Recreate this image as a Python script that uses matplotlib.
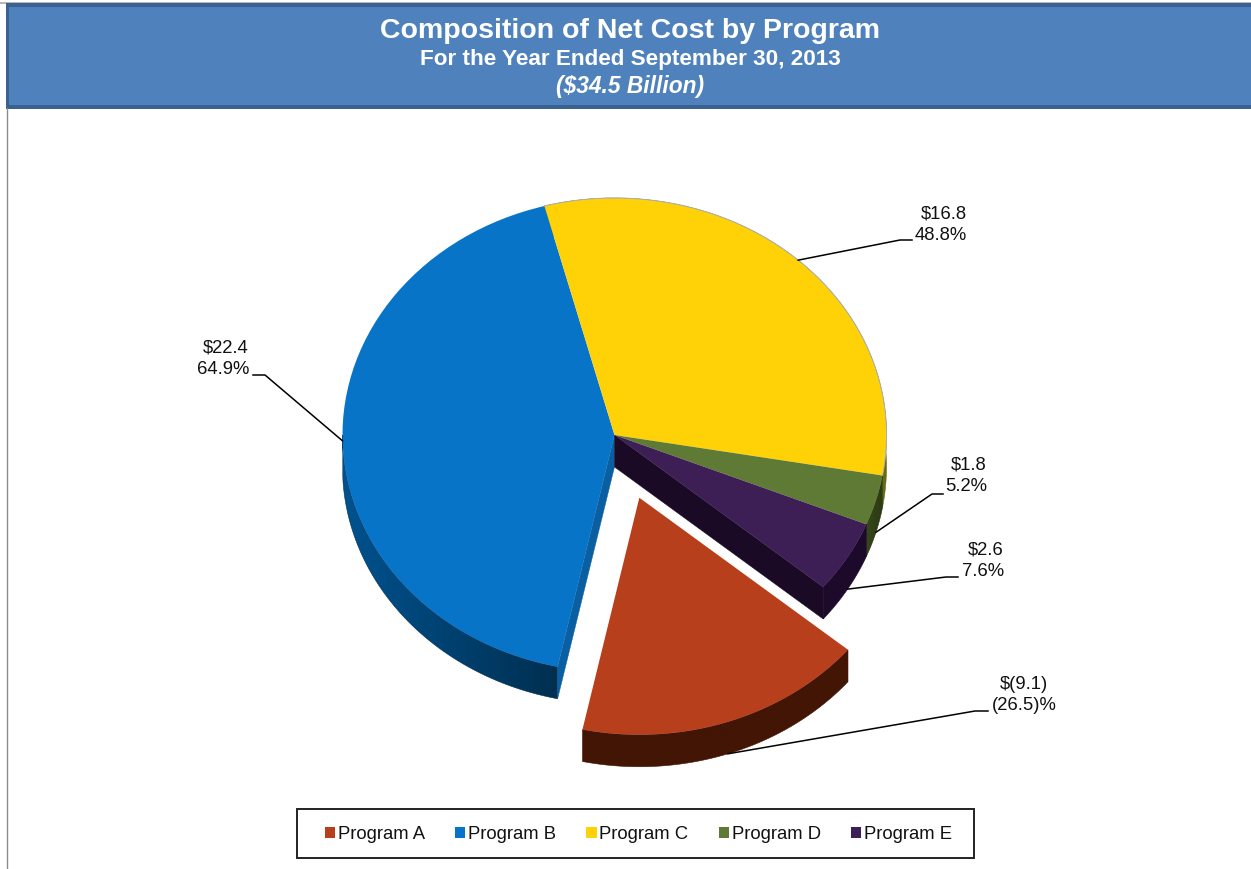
import numpy as np
import matplotlib
matplotlib.use("Agg")
import matplotlib.pyplot as plt
from matplotlib.colors import LinearSegmentedColormap
from matplotlib.patches import Rectangle, Polygon

plt.rcParams['font.family'] = ['Liberation Sans', 'DejaVu Sans']

# ---- data ----
programs = ['Program A', 'Program B', 'Program C', 'Program D', 'Program E']
amounts = [-9.1, 22.4, 16.8, 1.8, 2.6]
amount_labels = ['$(9.1)', '$22.4', '$16.8', '$1.8', '$2.6']
percent_labels = ['(26.5)%', '64.9%', '48.8%', '5.2%', '7.6%']
explode = [0.28, 0, 0, 0, 0]

# ---- styles ----
top_colors = ['#B83F1B', '#0874C8', '#FFD208', '#5F7A35', '#3D1E55']
side_left = ['#431505', '#00528F', '#8A8A10', '#36471A', '#1D0A2B']
side_right = ['#431505', '#002F50', '#6B6A10', '#2B3A12', '#1D0A2B']
cut_colors = ['#431505', '#0A5FA2', '#6B6A10', '#2B3A12', '#1B0A26']
W, H = 1251, 869
cx, cy = 614.5, 435    # pie centre, px
rx, ry = 272, 237      # pie radii, px
depth_px = 32
start_angle = -39.9

fig = plt.figure(figsize=(W / 100, H / 100), dpi=100, facecolor='white')

# Pie axes: one data unit is one radius, squashed to give the tilted view
ax = fig.add_axes([0, 0, 1, 1])
wedges, _ = ax.pie(np.abs(amounts), explode=explode, colors=top_colors,
                   startangle=start_angle, counterclock=False, radius=1,
                   wedgeprops=dict(linewidth=0, zorder=3))
xlim = (-cx / rx, (W - cx) / rx)
ylim = (-(H - cy) / ry, cy / ry)
depth = depth_px / ry


def rim(t, c):
    a = np.radians(t)
    return c[0] + np.cos(a), c[1] + np.sin(a)


leader_starts = []
for i, w in enumerate(wedges):
    c = w.center
    t1, t2 = w.theta1, w.theta2
    while t2 > 0:
        t1 -= 360
        t2 -= 360
    while t2 <= -360:
        t1 += 360
        t2 += 360
    lo = max(t1, -180)
    hi = min(t2, 0)
    if t2 < -180:
        lo, hi = t1, t2
    # curved outer wall with a horizontal shade
    if hi > lo:
        ts = np.linspace(lo, hi, 120)
        xs, ys = rim(ts, c)
        poly = np.r_[np.c_[xs, ys], np.c_[xs[::-1], ys[::-1] - depth]]
        cmap = LinearSegmentedColormap.from_list(f'w{i}', [side_left[i], side_right[i]])
        grad = np.linspace(0, 1, 256)[None, :]
        im = ax.imshow(grad, cmap=cmap, aspect='auto', interpolation='bilinear', zorder=2,
                       extent=(xs.min(), xs.max(), poly[:, 1].min(), poly[:, 1].max()))
        clip = Polygon(poly, closed=True, transform=ax.transData)
        im.set_clip_path(clip)
        ax.add_patch(Polygon(poly, closed=True, fc='none', ec=side_right[i], lw=0.4, zorder=2))
    # Visible flat cut faces
    if programs[i] == 'Program B':
        xr, yr = rim(w.theta2, c)
        ax.add_patch(Polygon([c, (xr, yr), (xr, yr - depth), (c[0], c[1] - depth)],
                             closed=True, fc=cut_colors[i], ec=cut_colors[i], lw=0.3, zorder=2.1))
    if programs[i] == 'Program E':
        xr, yr = rim(w.theta1, c)
        ax.add_patch(Polygon([c, (xr, yr), (xr, yr - depth), (c[0], c[1] - depth)],
                             closed=True, fc=cut_colors[i], ec=cut_colors[i], lw=0.3, zorder=2.1))
    # Where the leader touches the slice
    mid = (w.theta1 + w.theta2) / 2
    xm, ym = rim(mid, c)
    if np.sin(np.radians(mid)) < -0.1:
        ym -= depth
    leader_starts.append((xm, ym))

# thin grey rim on the yellow slice
ty = np.linspace(wedges[2].theta1, wedges[2].theta2, 100)
ax.plot(np.cos(np.radians(ty)), np.sin(np.radians(ty)), color='#B0B0B0', lw=0.7, zorder=3.5)
ax.set_aspect('auto')
ax.set_xlim(*xlim)
ax.set_ylim(*ylim)
ax.axis('off')

# Page furniture in pixel coordinates
ov = fig.add_axes([0, 0, 1, 1], facecolor='none')
ov.set_xlim(0, W)
ov.set_ylim(H, 0)
ov.axis('off')
ov.add_patch(Rectangle((0, 2), W, 1.5, fc='#B8B8B8', lw=0))
ov.add_patch(Rectangle((6, 3), W, 106, fc='#3B6190', lw=0))
ov.add_patch(Rectangle((9, 7), W, 98, fc='#4F81BD', lw=0))
ov.plot([6.5, 6.5], [108, H], color='#8C8C8C', lw=1)
ov.text(630, 31, 'Composition of Net Cost by Program', color='white', weight='bold',
        fontsize=20.5, ha='center', va='center')
ov.text(630, 60, 'For the Year Ended September 30, 2013', color='white', weight='bold',
        fontsize=16.2, ha='center', va='center')
ov.text(630.5, 86, '($34.5 Billion)', color='white', weight='bold', style='italic',
        fontsize=16.4, ha='center', va='center')

# Data labels and leaders
label_pos = [(1024, 695), (249, 358.5), (967, 225), (987, 475.5), (1004, 561)]
label_ha = ['center', 'right', 'right', 'right', 'right']
elbows = [[(975, 711), (988, 711)], [(265, 375), (253, 375)], [(900, 240), (912, 240)],
          [(932, 494), (943, 494)], [(946, 577), (958, 577)]]
for i, (amt, pct) in enumerate(zip(amount_labels, percent_labels)):
    x, y = label_pos[i]
    ov.text(x, y, f'{amt}\n{pct}', fontsize=13.3, color='#111111', ha=label_ha[i],
            va='center', multialignment=label_ha[i], linespacing=1.32)
    sx, sy = ax.transData.transform(leader_starts[i])
    sy = H - sy
    pts = [(sx, sy)] + elbows[i]
    ov.plot(*zip(*pts), color='black', lw=1.1, solid_joinstyle='round', zorder=1)

# Legend
ov.add_patch(Rectangle((297, 809), 677, 49, fc='white', ec='#222222', lw=1.4))
leg = fig.legend(wedges, programs, loc='center', bbox_to_anchor=(638.5 / W, 1 - 834.5 / H),
                 ncol=5, frameon=False, fontsize=13.3, handlelength=0.55, handleheight=0.55,
                 handletextpad=0.16, columnspacing=1.62, borderpad=0.9, labelcolor='#111111')

fig.savefig('out.png', dpi=100, facecolor='white')
